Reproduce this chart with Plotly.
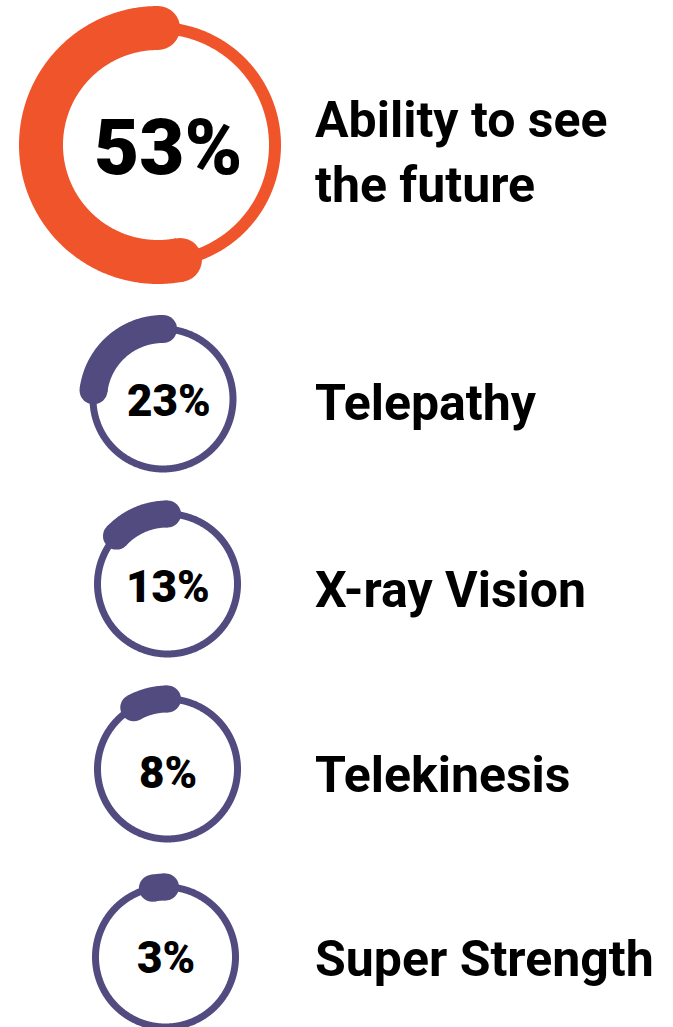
import numpy as np
import plotly.graph_objects as go

# ---- data ----
labels = ["Ability to see<br>the future", "Telepathy", "X-ray Vision", "Telekinesis", "Super Strength"]
values = [53, 23, 13, 8, 3]
value_text = ["53%", "23%", "13%", "8%", "3%"]
ring_colors = ["#F0542B", "#514B80", "#514B80", "#514B80", "#514B80"]

# ---- layout (pixels) ----
W, H = 673, 1027
centers = [(158, 145), (163, 399), (167.5, 584), (167.5, 769), (165.5, 957)]
radii = [117, 70, 70, 70, 70]
thin_w = [12, 7, 7, 7, 7]
thick_w = [44, 28, 27, 27, 27]
pct_font = [78, 44, 44, 44, 44]
pct_pos = [(168, 147), (169, 401), (168, 587), (167.5, 773), (166, 958)]
label_pos = [(313, 152), (313, 403), (313, 590), (313, 775), (313, 959)]
label_font = 50


def ring_xy(cx, cy, r, deg):
    # angle measured from 12 o'clock, counterclockwise; y axis is reversed (pixel-like)
    a = np.radians(deg)
    return cx - r * np.sin(a), cy - r * np.cos(a)


fig = go.Figure()
annotations = []
for i, (v, col) in enumerate(zip(values, ring_colors)):
    cx, cy = centers[i]
    r = radii[i]
    # thin full ring
    fx, fy = ring_xy(cx, cy, r, np.linspace(0, 360, 721))
    fig.add_trace(go.Scatter(x=fx, y=fy, mode="lines",
                             line=dict(color=col, width=thin_w[i], simplify=False),
                             hoverinfo="skip", showlegend=False))
    # thick value arc
    sweep = v * 3.6
    ax, ay = ring_xy(cx, cy, r, np.linspace(0, sweep, max(int(sweep * 2), 2) + 1))
    fig.add_trace(go.Scatter(x=ax, y=ay, mode="lines",
                             line=dict(color=col, width=thick_w[i], simplify=False),
                             hoverinfo="skip", showlegend=False))
    # rounded ends
    ex, ey = ring_xy(cx, cy, r, np.array([0.0, sweep]))
    fig.add_trace(go.Scatter(x=ex, y=ey, mode="markers",
                             marker=dict(color=col, size=thick_w[i], line=dict(width=0)),
                             cliponaxis=False, hoverinfo="skip", showlegend=False))
    px_, py_ = pct_pos[i]
    annotations.append(dict(
        x=px_, y=py_, xref="x", yref="y", text=value_text[i],
        showarrow=False, xanchor="center", yanchor="middle",
        font=dict(family="Roboto", size=pct_font[i], color="#000000", weight=900)))
    lx, ly = label_pos[i]
    annotations.append(dict(
        x=lx, y=ly, xref="x", yref="y", text=labels[i],
        showarrow=False, xanchor="left", yanchor="middle", align="left",
        font=dict(family="Roboto", size=label_font, color="#000000", weight="bold")))

fig.update_layout(
    width=W, height=H, autosize=False,
    margin=dict(l=0, r=0, t=0, b=0),
    paper_bgcolor="white", plot_bgcolor="white",
    annotations=annotations, showlegend=False,
    xaxis=dict(range=[0, W], visible=False, fixedrange=True),
    yaxis=dict(range=[H, 0], visible=False, fixedrange=True),
)
fig.write_html("out.html", config={"displayModeBar": False},
               post_script="document.body.style.margin='0';document.body.style.overflow='hidden';")
